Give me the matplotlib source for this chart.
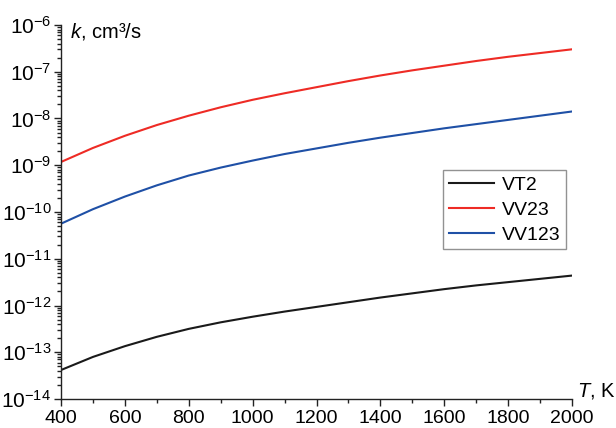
import matplotlib
matplotlib.use("Agg")
import matplotlib.pyplot as plt
from matplotlib.ticker import FixedLocator, LogLocator, NullFormatter, FuncFormatter
import numpy as np

plt.rcParams["font.family"] = ["Liberation Sans", "DejaVu Sans"]
plt.rcParams["mathtext.fontset"] = "custom"
plt.rcParams["mathtext.rm"] = "Liberation Sans"
plt.rcParams["mathtext.it"] = "Liberation Sans:italic"
plt.rcParams["mathtext.default"] = "regular"

# temperature grid, K
T = [400, 500, 600, 700, 800, 900, 1000, 1100, 1200, 1300, 1400,
     1500, 1600, 1700, 1800, 1900, 2000]
# log10 of rate constants, cm^3/s
log_vt2 = [-13.38, -13.10, -12.87, -12.67, -12.50, -12.36, -12.24, -12.13, -12.03,
           -11.93, -11.83, -11.74, -11.65, -11.57, -11.50, -11.43, -11.36]
log_vv23 = [-8.93, -8.63, -8.37, -8.14, -7.94, -7.76, -7.60, -7.46, -7.33,
            -7.20, -7.08, -6.97, -6.87, -6.77, -6.68, -6.60, -6.52]
log_vv123 = [-10.25, -9.94, -9.67, -9.43, -9.22, -9.05, -8.90, -8.76, -8.64,
             -8.52, -8.41, -8.31, -8.21, -8.12, -8.03, -7.94, -7.85]

series = [
    ("VT2", log_vt2, "#1a1a1a"),
    ("VV23", log_vv23, "#ee2b25"),
    ("VV123", log_vv123, "#1f50a6"),
]

fig = plt.figure(figsize=(6.16, 4.28), dpi=100)
ax = fig.add_axes([61 / 616, 1 - 399 / 428, 511 / 616, 374 / 428])

for name, vals, col in series:
    ax.plot(T, 10.0 ** np.array(vals), color=col, lw=1.5, label=name)

ax.set_yscale("log")
ax.set_xlim(400, 2000)
ax.set_ylim(1e-14, 1e-6)

for side in ("top", "right"):
    ax.spines[side].set_visible(False)
for side in ("left", "bottom"):
    ax.spines[side].set_linewidth(1.0)
    ax.spines[side].set_color("#222222")

ax.xaxis.set_major_locator(FixedLocator(np.arange(400, 2001, 200)))
ax.xaxis.set_minor_locator(FixedLocator(np.arange(500, 2000, 200)))
ax.yaxis.set_major_locator(LogLocator(base=10, numticks=20))
ax.yaxis.set_minor_locator(LogLocator(base=10, subs=np.arange(2, 10), numticks=20))
ax.yaxis.set_minor_formatter(NullFormatter())
ax.yaxis.set_major_formatter(FuncFormatter(lambda v, p: "10$^{%d}$" % int(round(np.log10(v)))))

ax.tick_params(which="major", direction="out", length=5, width=1, color="#222222")
ax.tick_params(which="minor", direction="out", length=3, width=1, color="#222222")
ax.tick_params(axis="x", labelsize=14, pad=3)
ax.tick_params(axis="y", labelsize=15, pad=2)

ax.text(0.018, 1.012, r"$\mathit{k}$, cm³/s", transform=ax.transAxes, fontsize=14.5,
        ha="left", va="top")
fig.text(577 / 616, 1 - 391 / 428, r"$\mathit{T}$, K", fontsize=14.5, ha="left", va="center")

leg = ax.legend(loc="upper left", bbox_to_anchor=(0.748, 0.612), borderaxespad=0,
                fontsize=14, frameon=True, fancybox=False, handlelength=2.3,
                labelspacing=0.38, handletextpad=0.4, borderpad=0.3)
leg.get_frame().set_edgecolor("#777777")
leg.get_frame().set_linewidth(1.0)

fig.savefig("out.png", dpi=100)
